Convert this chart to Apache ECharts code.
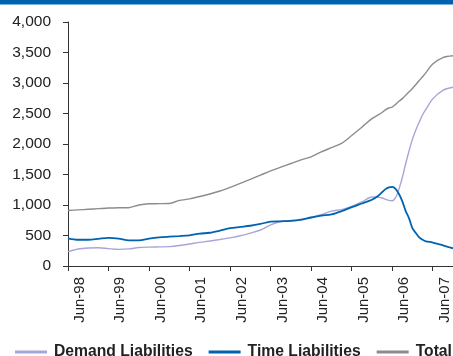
<!DOCTYPE html>
<html><head><meta charset="utf-8">
<script src="https://cdn.jsdelivr.net/npm/echarts@6/dist/echarts.min.js"></script>
<style>html,body{margin:0;padding:0;background:#fff}#c{width:453px;height:356px}</style>
</head><body><div id="c"></div>
<script>
// month position on the x axis (0 = start of Mar-98, 12 months per tick)
const monthPos = [0,3,6,9,12,15,18,21,24,27,30,33,36,39,42,45,48,51,54,57,60,63,66,69,72,75,78,81,84,87,90,92,93,94,95,96,97,98,99,100,101,102,103,104,105,106,108,111,114];
const demandLiab = [235,278,295,300,285,273,280,303,310,313,317,335,360,388,410,435,462,495,540,590,675,730,745,752,795,840,900,925,975,1050,1132,1125,1115,1095,1075,1070,1120,1260,1450,1680,1890,2080,2229,2360,2480,2570,2740,2880,2930];
const timeLiab = [454,430,430,445,462,450,420,420,448,468,480,490,503,530,545,580,620,640,660,690,727,733,740,760,795,825,846,899,965,1025,1086,1155,1210,1260,1290,1298,1265,1180,1060,900,780,617,540,470,430,405,385,340,290];
const totalLiab = [910,920,930,940,950,955,956,1000,1020,1022,1025,1075,1100,1140,1180,1230,1290,1355,1420,1490,1560,1620,1680,1740,1790,1870,1940,2010,2139,2275,2416,2480,2516,2560,2590,2606,2650,2700,2744,2800,2855,2911,2975,3040,3103,3170,3311,3417,3447];
const xTickLabels = ['Jun-98','Jun-99','Jun-00','Jun-01','Jun-02','Jun-03','Jun-04','Jun-05','Jun-06','Jun-07'];
const seriesNames = ['Demand Liabilities','Time Liabilities','Total'];

const colors = ['#A6A6D8','#0063B0','#8C8C8C'];
const font = 'Arial, "Liberation Sans", sans-serif';
const zip = arr => monthPos.map((m,i)=>[m,arr[i]]);

// plot geometry
const L = 68, T = 22, W = 386, H = 244, SPAN = 114;
const pxPerMonth = W / SPAN;
const labelShift = 8.5; // label axis starts 8.5 months before the plot so its ticks fall on June
const chart = echarts.init(document.getElementById('c'), null, {renderer:'canvas'});
chart.setOption({
  animation:false,
  backgroundColor:'#fff',
  graphic:[
    {type:'rect', shape:{x:0,y:0,width:453,height:4}, style:{fill:'#0061AD'}},
    {type:'rect', shape:{x:0,y:4,width:453,height:1}, style:{fill:'#7FB3DF'}}
  ],
  grid:[
    {left:L, top:T, width:W, height:H},
    {left:L - labelShift*pxPerMonth, top:T, width:W + labelShift*pxPerMonth, height:H}
  ],
  legend:{
    left:10, top:339, width:800, itemWidth:32, itemHeight:3, itemGap:16, icon:'rect',
    textStyle:{fontFamily:font, fontSize:15.7, fontWeight:'bold', color:'#222', padding:[0,0,0,2]},
    data:seriesNames
  },
  xAxis:[
    {type:'value', gridIndex:0, min:0, max:SPAN, interval:12,
     axisLine:{show:true, lineStyle:{color:'#333', width:1}},
     axisTick:{show:true, inside:false, length:5, lineStyle:{color:'#333'}},
     axisLabel:{show:false}, splitLine:{show:false}},
    {type:'value', gridIndex:1, min:0, max:SPAN + labelShift, interval:12,
     axisLine:{show:false}, axisTick:{show:false}, splitLine:{show:false},
     axisLabel:{show:true, rotate:90, margin:11, fontFamily:font, fontSize:15, color:'#222',
       showMinLabel:true, showMaxLabel:false,
       formatter:v=>{const i=Math.round(v/12)-1; return (Math.abs(v-(i+1)*12)<1e-6 && xTickLabels[i])?xTickLabels[i]:'';}}}
  ],
  yAxis:[
    {type:'value', gridIndex:0, min:0, max:4000, interval:500,
    axisLine:{show:true, lineStyle:{color:'#333', width:1}},
    axisTick:{show:true, length:5, lineStyle:{color:'#333'}},
    splitLine:{show:false},
    axisLabel:{margin:17, fontFamily:font, fontSize:15.5, color:'#222',
      formatter:v=>v.toLocaleString('en-US')}},
    {type:'value', gridIndex:1, min:0, max:4000, show:false}
  ],
  series:[
    {name:seriesNames[0], type:'line', data:zip(demandLiab), showSymbol:false, smooth:0.3, color:colors[0], lineStyle:{width:1.4}, xAxisIndex:0, yAxisIndex:0},
    {name:seriesNames[1], type:'line', data:zip(timeLiab), showSymbol:false, smooth:0.3, color:colors[1], lineStyle:{width:1.8}, xAxisIndex:0, yAxisIndex:0},
    {name:seriesNames[2], type:'line', data:zip(totalLiab), showSymbol:false, smooth:0.3, color:colors[2], lineStyle:{width:1.4}, xAxisIndex:0, yAxisIndex:0}
  ]
});
</script></body></html>
